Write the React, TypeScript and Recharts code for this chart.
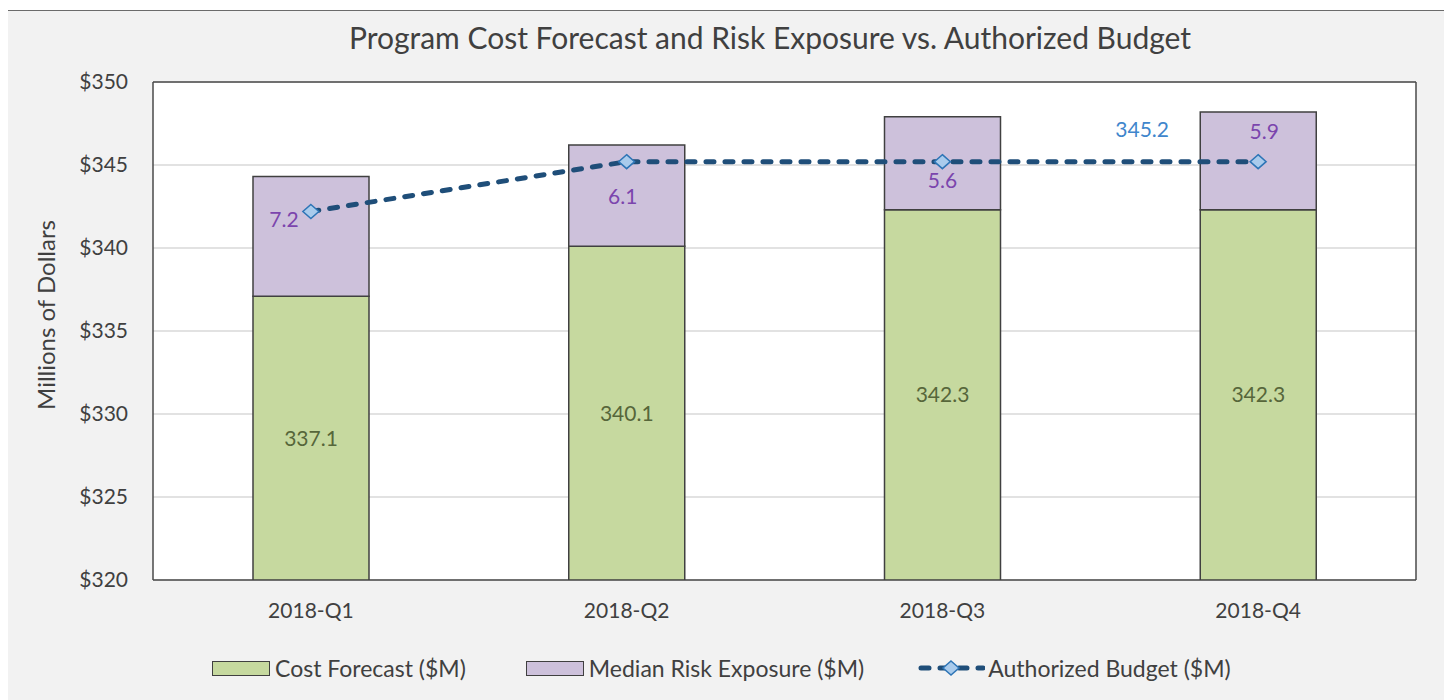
import {
  ComposedChart,
  Bar,
  Line,
  XAxis,
  YAxis,
  CartesianGrid,
  Legend,
  LabelList,
} from "recharts"

const quarters = ["2018-Q1", "2018-Q2", "2018-Q3", "2018-Q4"]
const costForecast = [337.1, 340.1, 342.3, 342.3]
const riskExposure = [7.2, 6.1, 5.6, 5.9]
const authorizedBudget = [342.2, 345.2, 345.2, 345.2]
const yTicks = [320, 325, 330, 335, 340, 345, 350]

// label nudges (px) so the risk values clear the budget markers, like the original
const riskNudge = [
  [-27, -18],
  [-4, 0],
  [0, 16],
  [6, -30],
]

const FONT = "Lato, 'Open Sans', sans-serif"
const TEXT = "#404040"

const chartData = quarters.map((q, i) => ({
  name: q,
  cost: costForecast[i],
  risk: riskExposure[i],
  budget: authorizedBudget[i],
}))

function Diamond(props: any) {
  const { cx, cy } = props
  if (cx == null || cy == null) return null
  return (
    <polygon
      points={`${cx},${cy - 7} ${cx + 8},${cy} ${cx},${cy + 7} ${cx - 8},${cy}`}
      fill="#a9cbec"
      stroke="#2e75b6"
      strokeWidth={1.5}
    />
  )
}

function RiskLabel(props: any) {
  const { x, y, width, height, value, index } = props
  const [dx, dy] = riskNudge[index] || [0, 0]
  return (
    <text
      x={x + width / 2 + dx}
      y={y + height / 2 + dy}
      textAnchor="middle"
      dominantBaseline="central"
      fill="#7b45ad"
      fontSize={21}
      fontFamily={FONT}
    >
      {value.toFixed(1)}
    </text>
  )
}

function BudgetLabel(props: any) {
  const { x, y, value, index } = props
  if (index !== quarters.length - 1) return null
  return (
    <text
      x={x - 116}
      y={y - 33}
      textAnchor="middle"
      dominantBaseline="central"
      fill="#3f86cc"
      fontSize={21}
      fontFamily={FONT}
    >
      {value.toFixed(1)}
    </text>
  )
}

function AxisTitle(props: any) {
  const { viewBox } = props
  const cx = viewBox.x + 39
  const cy = viewBox.y + viewBox.height / 2 - 16
  return (
    <text
      x={cx}
      y={cy}
      transform={`rotate(-90, ${cx}, ${cy})`}
      textAnchor="middle"
      dominantBaseline="central"
      fill={TEXT}
      fontSize={24}
      fontFamily={FONT}
    >
      Millions of Dollars
    </text>
  )
}

function ChartLegend() {
  const swatch = (fill: string) => (
    <span
      style={{
        display: "inline-block",
        width: 56,
        height: 13,
        background: fill,
        border: "1.5px solid #404040",
        marginRight: 5,
      }}
    />
  )
  const text = { fontSize: 23, color: TEXT, fontFamily: FONT }
  return (
    <div style={{ display: "flex", alignItems: "center", height: 46, paddingLeft: 206 }}>
      {swatch("#c6d99f")}
      <span style={text}>Cost Forecast ($M)</span>
      <span style={{ width: 60 }} />
      {swatch("#cdc1db")}
      <span style={text}>Median Risk Exposure ($M)</span>
      <span style={{ width: 53 }} />
      <svg width={68} height={16} style={{ marginRight: 3 }}>
        <line
          x1={4}
          y1={8}
          x2={66}
          y2={8}
          stroke="#1f4e79"
          strokeWidth={5}
          strokeDasharray="8 11"
          strokeLinecap="round"
        />
        <polygon points="34,1 42,8 34,15 26,8" fill="#a9cbec" stroke="#2e75b6" strokeWidth={1.5} />
      </svg>
      <span style={text}>Authorized Budget ($M)</span>
    </div>
  )
}

export default function App() {
  return (
    <div
      style={{
        position: "relative",
        marginLeft: -3,
        marginTop: 2,
        width: 1440,
        height: 690,
        background: "#f2f2f2",
        border: "1px solid #6b6b6b",
        fontFamily: FONT,
      }}
    >
      <div
        style={{
          position: "absolute",
          top: 9,
          left: 0,
          right: 0,
          paddingLeft: 88,
          textAlign: "center",
          fontSize: 30,
          lineHeight: "34px",
          color: TEXT,
        }}
      >
        Program Cost Forecast and Risk Exposure vs. Authorized Budget
      </div>
      <ComposedChart
        width={1440}
        height={690}
        data={chartData}
        margin={{ top: 71, right: 30, bottom: 0, left: 0 }}
      >
        <CartesianGrid vertical={false} stroke="#d9d9d9" strokeWidth={1.5} fill="#ffffff" />
        <CartesianGrid
          stroke="#4a4a4a"
          strokeWidth={1.5}
          horizontalCoordinatesGenerator={({ offset }: any) => [offset.top, offset.top + offset.height]}
          verticalCoordinatesGenerator={({ offset }: any) => [offset.left, offset.left + offset.width]}
        />
        <XAxis
          dataKey="name"
          height={65}
          tickLine={false}
          axisLine={false}
          tickMargin={17}
          tick={{ fill: TEXT, fontSize: 21, fontFamily: FONT }}
        />
        <YAxis
          width={147}
          domain={[320, 350]}
          ticks={yTicks}
          allowDataOverflow
          tickLine={false}
          axisLine={false}
          tickMargin={19}
          tickFormatter={(v) => `$${v}`}
          tick={{ fill: TEXT, fontSize: 21, fontFamily: FONT }}
          label={<AxisTitle />}
        />
        <Legend verticalAlign="bottom" height={56} content={<ChartLegend />} />
        <Bar
          dataKey="cost"
          stackId="a"
          barSize={116}
          fill="#c6d99f"
          stroke="#404040"
          strokeWidth={1.5}
          name="Cost Forecast ($M)"
          isAnimationActive={false}
        >
          <LabelList
            dataKey="cost"
            position="center"
            fill="#56663a"
            fontSize={21}
            fontFamily={FONT}
            formatter={(v: any) => Number(v).toFixed(1)}
          />
        </Bar>
        <Bar
          dataKey="risk"
          stackId="a"
          barSize={116}
          fill="#cdc1db"
          stroke="#404040"
          strokeWidth={1.5}
          name="Median Risk Exposure ($M)"
          isAnimationActive={false}
        >
          <LabelList dataKey="risk" content={<RiskLabel />} />
        </Bar>
        <Line
          type="linear"
          dataKey="budget"
          stroke="#1f4e79"
          strokeWidth={5}
          strokeDasharray="8 11"
          strokeLinecap="round"
          dot={<Diamond />}
          activeDot={false}
          name="Authorized Budget ($M)"
          isAnimationActive={false}
        >
          <LabelList dataKey="budget" content={<BudgetLabel />} />
        </Line>
      </ComposedChart>
    </div>
  )
}
